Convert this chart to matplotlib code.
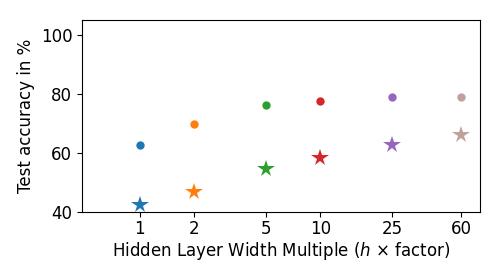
import matplotlib
matplotlib.use("Agg")
import matplotlib.pyplot as plt
from matplotlib.ticker import FixedLocator, FixedFormatter, NullLocator

factors = [1, 2, 5, 10, 25, 60]
acc_circle = [62.7, 69.8, 76.3, 77.6, 79.0, 79.0]
acc_star = [42.5, 46.6, 54.5, 58.1, 62.5, 66.0]
colors = ['#1f77b4', '#ff7f0e', '#2ca02c', '#d62728', '#9467bd', '#8c564b']
alphas = [1, 1, 1, 1, 1, 0.55]
tick_labels = ['1', '2', '5', '10', '25', '60']

fig = plt.figure(figsize=(5, 2.8), dpi=100)
ax = fig.add_axes([0.164, 0.243, 0.796, 0.686])
for f, a, s, c, al in zip(factors, acc_circle, acc_star, colors, alphas):
    ax.plot([f], [a], 'o', color=c, alpha=al, markersize=6, markeredgewidth=0)
    ax.plot([f], [s], '*', color=c, alpha=al, markersize=13, markeredgewidth=0)

ax.set_xscale('log')
ax.set_xlim(0.48, 76.5)
ax.set_ylim(40, 105)
ax.xaxis.set_major_locator(FixedLocator(factors))
ax.xaxis.set_major_formatter(FixedFormatter(tick_labels))
ax.xaxis.set_minor_locator(NullLocator())
ax.set_yticks([40, 60, 80, 100])
ax.tick_params(labelsize=12)
ax.tick_params(axis='x', pad=2.5)
ax.set_xlabel(r'Hidden Layer Width Multiple ($h$ $\times$ factor)', fontsize=12, labelpad=1.5)
ax.set_ylabel('Test accuracy in %', fontsize=12)
fig.savefig('out.png', dpi=100)
